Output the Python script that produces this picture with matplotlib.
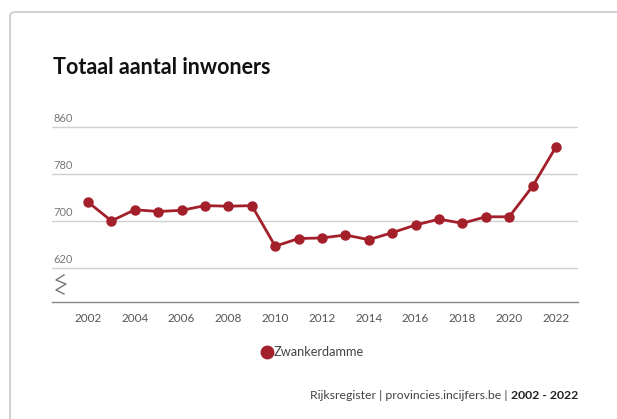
import numpy as np
import matplotlib.pyplot as plt
from matplotlib.patches import FancyBboxPatch
from matplotlib.lines import Line2D

# Data
years = list(range(2002, 2023))
inwoners = [732, 700, 719, 716, 718, 726, 725, 726, 657, 670, 671,
            676, 668, 680, 693, 703, 696, 707, 707, 759, 826]
y_ticks = [620, 700, 780, 860]
x_ticks = list(range(2002, 2023, 2))

plt.rcParams['font.family'] = ['Lato', 'DejaVu Sans']

fig = plt.figure(figsize=(6.17, 4.19), dpi=100)

# card border
card = FancyBboxPatch((10 / 617, -0.1), 0.99, 1.0 - 12 / 419 + 0.1,
                      boxstyle="round,pad=0,rounding_size=0.01",
                      transform=fig.transFigure, facecolor='white',
                      edgecolor='#c8c8cc', linewidth=1.2, zorder=-5)
fig.patches.append(card)

ax = fig.add_axes([52 / 617, 117 / 419, 526 / 617, 181 / 419])
ax.set_facecolor('none')
ax.set_zorder(2)

red = '#a3202b'
ax.plot(years, inwoners, color=red, linewidth=2, marker='o',
        markersize=6.5, zorder=3)

ax.set_xlim(2000.46, 2022.94)
ax.set_ylim(562, 870)

for v in y_ticks:
    ax.axhline(v, color='#d0d0d0', linewidth=1, zorder=1)
    ax.text(0.002, v + 5, str(v), transform=ax.get_yaxis_transform(),
            ha='left', va='bottom', fontsize=8, color='#777777')

ax.set_yticks([])
ax.set_xticks(x_ticks)
ax.set_xticklabels([str(x) for x in x_ticks], fontsize=8.5, color='#555555')
ax.tick_params(axis='x', length=0, pad=8)
for s in ['top', 'right', 'left']:
    ax.spines[s].set_visible(False)
ax.spines['bottom'].set_color('#888888')
ax.spines['bottom'].set_linewidth(1)

# axis break symbol
bx = np.array([64, 56, 66, 56, 64]) / 617
by = 1 - np.array([275, 280, 284, 290, 294]) / 419
fig.add_artist(Line2D(bx, by, color='#777777', linewidth=1,
                      transform=fig.transFigure))

fig.text(53 / 617, 1 - 68 / 419, 'Totaal aantal inwoners', fontsize=15.5,
         fontweight='bold', color='#111111', va='center', ha='left')

# legend
fig.add_artist(Line2D([267 / 617], [1 - 352 / 419], marker='o',
                      markersize=9, color=red, linestyle='none',
                      transform=fig.transFigure))
fig.text(274 / 617, 1 - 352 / 419, 'Zwankerdamme', fontsize=9.2,
         color='#444444', va='center', ha='left')

# footer
fig.text(578 / 617, 1 - 395 / 419, '2002 - 2022', fontsize=8.8,
         fontweight='bold', color='#222222', va='center', ha='right')
fig.text(511 / 617, 1 - 395 / 419, 'Rijksregister | provincies.incijfers.be | ',
         fontsize=8.8, color='#444444', va='center', ha='right')

fig.savefig('out.png', dpi=100)
